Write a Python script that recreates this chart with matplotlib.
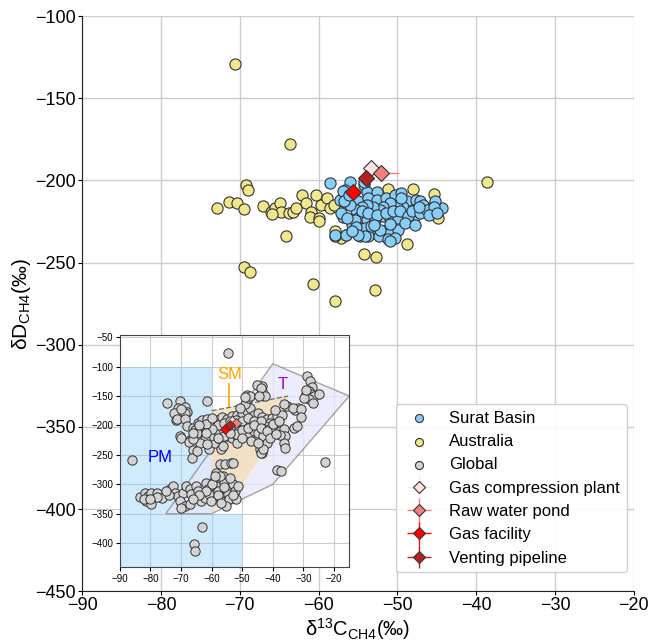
import matplotlib
matplotlib.use("Agg")
import matplotlib.pyplot as plt
from matplotlib.patches import Polygon
from matplotlib.legend_handler import HandlerErrorbar
from matplotlib.container import ErrorbarContainer

plt.rcParams["font.family"] = ["Liberation Sans", "DejaVu Sans"]
plt.rcParams["mathtext.fontset"] = "custom"
plt.rcParams["mathtext.rm"] = "Liberation Sans"
plt.rcParams["mathtext.it"] = "Liberation Sans:italic"
plt.rcParams["mathtext.default"] = "rm"

# ── Surat Basin CSG (d13C, dD) ──
surat_d13c = [
    -58.5, -56.0, -56.7, -54.3, -53.8, -52.6, -55.0, -53.7, -52.6, -51.4,
    -50.3, -49.5, -48.8, -47.6, -47.1, -46.3, -44.4, -45.2, -48.0, -49.3,
    -50.1, -50.9, -51.8, -52.2, -53.1, -53.9, -54.5, -55.2, -56.0, -56.9,
    -57.3, -56.9, -55.0, -53.9, -52.9, -51.8, -50.9, -49.9, -48.6, -47.6,
    -46.7, -54.5, -53.7, -52.6, -51.4, -50.5, -49.7, -55.2, -54.1, -52.8,
    -51.8, -50.9, -49.9, -54.7, -53.7, -52.4, -51.2, -50.3, -57.9, -56.5,
    -50.9, -52.2, -53.3, -55.8, -55.4, -54.1, -48.6, -48.2, -47.1, -46.3,
    -45.4, -56.9, -56.8, -56.1, -57.1, -56.4, -57.9, -56.5, -55.2, -55.0,
    -54.3, -49.0, -47.8, -46.0, -51.0, -53.0, -55.8, -49.6, -47.3, -45.0,
]
surat_dD = [
    -201.4, -200.8, -205.8, -202.8, -206.8, -206.8, -212.8, -210.8, -211.8, -210.8,
    -208.8, -207.8, -212.8, -211.8, -212.8, -216.9, -216.5, -212.4, -217.9, -215.9,
    -215.9, -213.9, -215.9, -217.9, -215.9, -214.9, -215.9, -217.9, -214.9, -212.8,
    -211.8, -222.5, -222.9, -223.9, -223.9, -221.9, -222.9, -222.9, -223.9, -220.9,
    -214.9, -218.9, -219.9, -220.9, -219.9, -218.9, -218.9, -227.9, -228.9, -231.9,
    -230.9, -231.9, -229.9, -233.9, -233.9, -233.9, -235.9, -234.9, -233.9, -233.3,
    -236.9, -229.9, -227.9, -226.9, -223.9, -233.9, -221.9, -218.9, -219.9, -217.9,
    -215.9, -206.5, -212.8, -208.9, -219.9, -222.9, -233.0, -233.0, -228.5, -233.0,
    -200.8, -226.0, -227.0, -221.0, -226.5, -227.0, -230.5, -211.0, -216.0, -220.0,
]

# ── other Australian basins ──
aus_d13c = [
    -70.6, -63.6, -69.2, -69.0, -72.9, -71.4, -70.4, -69.5, -67.1, -66.1,
    -65.5, -64.9, -64.8, -65.9, -63.7, -63.2, -62.9, -62.1, -61.6, -61.0,
    -61.1, -60.3, -59.7, -60.0, -59.9, -59.0, -58.6, -57.7, -64.1, -69.5,
    -68.7, -60.7, -57.9, -54.2, -52.7, -52.9, -57.9, -57.1, -51.2, -48.0,
    -45.4, -44.9, -48.8, -38.6, -58.0,
]
aus_dD = [
    -129.0, -178.0, -203.0, -206.0, -216.5, -213.0, -214.0, -217.5, -215.5, -219.0,
    -216.5, -214.0, -219.0, -220.5, -220.0, -219.0, -217.0, -209.0, -214.0, -219.0,
    -222.0, -209.0, -215.0, -223.0, -224.5, -211.0, -217.0, -216.0, -234.0, -253.0,
    -256.0, -263.0, -273.5, -245.0, -246.5, -266.5, -231.0, -235.0, -205.5, -205.0,
    -208.0, -223.0, -239.0, -201.0, -215.0,
]

# ── global compilation (inset) ──
glob_d13c = [
    -54.5, -86.0, -23.0, -38.6, -63.3, -65.8, -65.4,
    -74.6, -70.4, -70.9, -68.6, -68.0, -72.2, -71.8, -68.6, -70.0, -61.6, -71.3, -68.8,
    -68.0, -66.1, -64.5, -70.4, -69.9, -67.2, -67.5, -65.6, -66.1,
    -65.5, -63.5, -62.0, -64.0, -61.0, -59.0, -57.0,
    -63.3, -61.6, -60.0, -58.4, -56.7, -55.1, -53.4, -51.8, -50.2, -48.5,
    -47.4, -49.1, -48.0, -50.7, -46.3, -44.7, -43.6, -42.0, -40.3, -38.7,
    -37.0, -39.2, -40.9, -42.5, -44.2, -45.8, -47.4, -49.1, -50.7, -52.3,
    -54.0, -55.6, -57.3, -58.9, -60.5, -62.2, -63.8, -61.6, -64.9, -66.0,
    -57.3, -55.1, -53.4, -51.8, -49.6, -48.0, -46.3, -44.7, -43.1, -41.4,
    -39.8, -37.6, -36.5, -36.0, -36.5, -36.0, -37.6, -33.2, -32.1, -31.6,
    -35.4, -32.7, -44.2, -43.6, -42.0, -51.8, -56.2, -43.6, -43.6, -45.2,
    -48.5, -47.4,
    -28.7, -27.9, -27.2, -28.3, -27.6, -29.2, -26.5, -24.9, -28.1, -27.0, -29.7, -29.2,
    -43.9, -42.4, -44.4, -49.0, -36.3, -33.3, -30.8, -30.8,
    -66.3, -64.8, -57.4, -55.5, -53.6, -52.9, -43.9, -43.3, -37.3,
    -83.5, -81.9, -80.8, -79.7, -77.8, -76.1, -81.3, -79.7, -82.2, -73.7,
    -72.6, -72.1, -71.0, -69.4, -68.3, -67.2, -66.7, -70.5, -68.8, -69.9,
    -67.2, -65.0, -64.5, -63.9, -63.4, -62.3, -62.0, -61.2, -60.7, -60.1,
    -59.1, -58.5, -58.0, -57.4, -56.9, -56.3, -55.8, -55.3, -54.7, -54.2,
    -55.3, -53.1, -52.5, -52.0, -51.5, -58.5, -57.4,
    -58.0, -56.0, -54.0, -52.0, -50.0, -48.0, -46.0, -44.0, -52.0, -50.0,
    -48.0, -46.0, -44.0, -42.0, -40.0, -38.0, -56.0, -54.0, -58.0, -60.0,
    -62.0, -60.0, -62.0, -66.0, -64.0, -50.0, -47.0, -45.0, -41.0, -39.0,
    -60.0, -58.0, -56.0, -54.0, -62.0, -64.0, -66.0, -74.0, -75.0, -78.0,
    -80.0, -57.0, -53.0, -59.0,
]
glob_dD = [
    -76.0, -258.0, -262.0, -276.0, -373.0, -402.0, -414.0,
    -161.0, -157.6, -170.5, -168.8, -177.8, -178.9, -190.2, -178.9, -172.0, -158.3, -188.9, -188.9,
    -201.5, -204.2, -195.8, -217.2, -221.1, -224.0, -228.5, -218.4, -240.9,
    -207.0, -215.0, -205.0, -225.0, -240.0, -230.0, -240.0,
    -191.0, -188.7, -195.5, -189.9, -185.4, -188.7, -183.1, -181.4, -178.6, -175.8,
    -170.1, -162.8, -153.2, -170.1, -181.4, -178.6, -185.4, -188.7, -187.0, -184.2,
    -181.4, -173.0, -195.5, -201.1, -198.3, -201.1, -195.5, -201.1, -203.9, -206.8,
    -203.9, -206.8, -209.6, -212.4, -218.0, -223.7, -229.3, -232.1, -212.4, -223.7,
    -223.7, -218.0, -220.8, -218.0, -215.2, -212.4, -209.6, -212.4, -218.0, -206.8,
    -206.8, -209.6, -206.8, -218.0, -229.3, -237.7, -216.9, -203.9, -201.1, -170.1,
    -167.3, -173.0, -240.6, -246.2, -229.3, -229.3, -234.9, -142.0, -133.5, -130.7,
    -147.6, -150.4,
    -116.7, -125.0, -135.0, -141.7, -147.2, -147.2, -150.0, -147.2, -155.6, -161.1, -152.8, -138.9,
    -136.1, -150.0, -150.0, -151.7, -163.9, -170.6, -172.2, -186.1,
    -254.8, -243.5, -266.0, -266.0, -264.4, -264.4, -247.5, -239.5, -277.4,
    -320.9, -314.1, -319.8, -314.1, -314.1, -322.6, -328.2, -333.9, -324.3, -308.5,
    -302.8, -314.1, -319.8, -314.1, -302.8, -308.5, -317.0, -328.2, -336.7, -339.5,
    -333.9, -302.8, -311.3, -319.8, -328.2, -322.6, -297.2, -308.5, -317.0, -328.2,
    -294.4, -302.8, -311.3, -319.8, -328.2, -285.9, -297.2, -308.5, -317.0, -325.4,
    -336.7, -300.0, -311.3, -325.4, -302.8, -280.2, -285.9,
    -200.0, -196.0, -192.0, -190.0, -192.0, -188.0, -192.0, -192.0, -214.0, -208.0,
    -204.0, -200.0, -205.0, -210.0, -198.0, -193.0, -218.0, -212.0, -222.0, -206.0,
    -198.0, -188.0, -212.0, -212.0, -200.0, -222.0, -226.0, -230.0, -222.0, -215.0,
    -300.0, -318.0, -305.0, -290.0, -312.0, -318.0, -325.0, -318.0, -312.0, -322.0,
    -325.0, -332.0, -318.0, -285.0,
]

# ── site samples ──
site_names = ["Gas compression plant", "Raw water pond", "Gas facility", "Venting pipeline"]
site_d13c = [-53.4, -52.1, -55.6, -54.0]
site_dD = [-192.4, -195.4, -206.8, -198.8]
site_d13c_err = [0.6, 2.3, 0.5, 0.5]
site_dD_err = [1.5, 1.5, 1.5, 1.5]
site_colors = ["#ffe4e1", "#f08080", "#ff0000", "#b22222"]

# ── genetic fields ──
pm_field = [(-90, -100), (-60, -100), (-60, -350), (-50, -350), (-50, -450), (-90, -450)]
t_field = [(-75, -350), (-40, -95), (-15, -150), (-40, -300), (-60, -350)]
sm_field = [(-60, -175), (-35, -150), (-35, -185), (-50, -300), (-60, -350)]

EDGE = "#333333"

fig = plt.figure(figsize=(6.48, 6.44), dpi=100)
ax = fig.add_axes([0.127, 0.082, 0.851, 0.893])

ax.scatter(surat_d13c, surat_dD, s=65, c="#87cefa", edgecolors=EDGE,
           linewidths=0.8, zorder=4, label="Surat Basin")
ax.scatter(aus_d13c, aus_dD, s=65, c="#f0e68c", edgecolors=EDGE,
           linewidths=0.8, zorder=3, label="Australia")
ax.scatter([], [], s=65, c="#d3d3d3", edgecolors=EDGE, linewidths=0.8,
           label="Global")

for name, x, y, xe, ye, col in zip(site_names, site_d13c, site_dD,
                                   site_d13c_err, site_dD_err, site_colors):
    ax.errorbar([x], [y], xerr=[xe], yerr=[ye], fmt="D", ms=8.5, mfc=col,
                mec=EDGE, mew=0.8, ecolor=col, elinewidth=1, capsize=0,
                zorder=6, label=name)

ax.set_xlim(-90, -20)
ax.set_ylim(-450, -100)
ax.set_xticks(range(-90, -19, 10))
ax.set_yticks(range(-450, -99, 50))
ax.grid(True, color="#cccccc", linewidth=1)
ax.set_axisbelow(True)
for side in ("top", "right"):
    ax.spines[side].set_visible(False)
for side in ("left", "bottom"):
    ax.spines[side].set_color("#222222")
ax.tick_params(labelsize=13, length=3, pad=1.5, direction="out")
ax.set_xlabel("δ$^{13}$C$_{CH4}$(‰)", fontsize=14.5, labelpad=1)
ax.set_ylabel("δD$_{CH4}$(‰)", fontsize=15, labelpad=2)

leg = ax.legend(loc="lower right", bbox_to_anchor=(0.987, 0.033),
                borderaxespad=0, fontsize=12, labelspacing=0.5,
                markerscale=0.72, frameon=True, fancybox=True,
                framealpha=0.9, edgecolor="#cccccc",
                handler_map={ErrorbarContainer: HandlerErrorbar(xerr_size=0.7, yerr_size=0.7)})

# ── inset: global dataset with genetic fields ──
ins = fig.add_axes([0.185, 0.12, 0.354, 0.36])
ins.add_patch(Polygon(pm_field, closed=True, facecolor="#87cefa", alpha=0.4,
                      edgecolor="none", zorder=1))
ins.add_patch(Polygon(t_field, closed=True, facecolor="#e6e6fa", alpha=0.75,
                      edgecolor="#888888", linewidth=1, zorder=2))
ins.add_patch(Polygon(sm_field, closed=True, facecolor="#f5deb3", alpha=0.75,
                      edgecolor="none", zorder=3))
ins.plot([-60, -35], [-175, -150], ls="--", color="#777777", lw=1, zorder=3)

ins.scatter(glob_d13c, glob_dD, s=45, c="#d3d3d3", edgecolors=EDGE,
            linewidths=0.7, zorder=4)
for x, y, xe, ye, col in zip(site_d13c, site_dD, site_d13c_err,
                             site_dD_err, site_colors):
    ins.errorbar([x], [y], xerr=[xe], yerr=[ye], fmt="D", ms=5.5, mfc=col,
                 mec=EDGE, mew=0.6, ecolor=col, elinewidth=0.8, capsize=0,
                 zorder=6)

ins.text(-77, -255, "PM", color="blue", fontsize=12, ha="center", va="center", zorder=7)
ins.text(-54.2, -113, "SM", color="orange", fontsize=12, ha="center", va="center", zorder=7)
ins.plot([-54.2, -54.2], [-129, -167], color="orange", lw=1.2, zorder=7)
ins.text(-36.8, -131, "T", color="#9400d3", fontsize=12, ha="center", va="center", zorder=7)

ins.set_xlim(-90, -15)
ins.set_ylim(-440, -46)
ins.set_xticks(range(-90, -19, 10))
ins.set_yticks(range(-400, -49, 50))
ins.grid(True, color="#cccccc", linewidth=0.8)
ins.set_axisbelow(True)
for sp in ins.spines.values():
    sp.set_color("#444444")
ins.tick_params(labelsize=7, length=3, pad=2, direction="out")

fig.savefig("out.png", dpi=100)
